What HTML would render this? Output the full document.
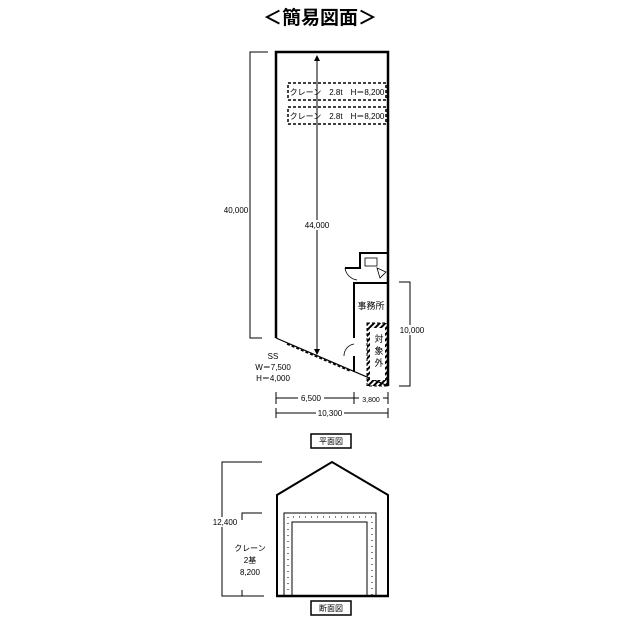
<!DOCTYPE html>
<html><head><meta charset="utf-8"><style>
html,body{margin:0;padding:0;background:#fff;}
svg{display:block;font-family:"Liberation Sans","Noto Sans CJK JP",sans-serif;}
</style></head><body>
<svg width="640" height="629" viewBox="0 0 640 629" xmlns="http://www.w3.org/2000/svg">
<defs>
<pattern id="h" width="4" height="4" patternUnits="userSpaceOnUse" patternTransform="rotate(45)"><rect width="2" height="4" fill="#000"/></pattern>
<marker id="a" markerWidth="6" markerHeight="6" refX="3" refY="3" orient="auto-start-reverse"><path d="M0,0 L6,3 L0,6z" fill="#000"/></marker>
</defs>
<text x="320" y="24" text-anchor="middle" font-size="19" font-weight="bold">＜簡易図面＞</text>
<g stroke="#000" fill="none">
<path d="M276,338 V52 H388 V386" stroke-width="2.5"/>
<line x1="276" y1="338" x2="388" y2="386" stroke-width="1.2"/>
<line x1="287" y1="344" x2="350" y2="371" stroke-width="1.5" stroke-dasharray="3,2"/>
<path d="M354,338 V283 H388" stroke-width="2"/>
<line x1="354" y1="356" x2="354" y2="372" stroke-width="2"/>
<path d="M344,356 A12,12 0 0 1 354,344" stroke-width="0.8"/>
<path d="M345,268 H360 V253 H388" stroke-width="2"/>
<path d="M345,268 A14,14 0 0 0 357,280" stroke-width="0.8"/>
<rect x="365" y="258" width="12" height="8" stroke-width="0.8"/>
<path d="M377,268 L386,272 L380,278z" stroke-width="0.8"/>
<rect x="367" y="323" width="21" height="63" fill="url(#h)" stroke="none"/>
<rect x="370" y="328" width="15" height="52" fill="#fff" stroke="none"/>
<rect x="367" y="323" width="21" height="63" stroke-width="1" stroke-dasharray="3,2"/>
<rect x="288" y="83" width="98" height="17" stroke-width="1.5" stroke-dasharray="3,2"/>
<rect x="288" y="107" width="98" height="17" stroke-width="1.5" stroke-dasharray="3,2"/>
<path d="M268,52 H250 V338 H262" stroke-width="1"/>
<line x1="317" y1="58" x2="317" y2="352" stroke-width="1" marker-start="url(#a)" marker-end="url(#a)"/>
<path d="M399,282 H410 V386 H399" stroke-width="1"/>
<line x1="276" y1="398" x2="388" y2="398" stroke-width="1"/>
<line x1="276" y1="392" x2="276" y2="404" stroke-width="1"/>
<line x1="354" y1="392" x2="354" y2="404" stroke-width="1"/>
<line x1="388" y1="392" x2="388" y2="404" stroke-width="1"/>
<line x1="276" y1="413" x2="388" y2="413" stroke-width="1"/>
<line x1="276" y1="408" x2="276" y2="418" stroke-width="1"/>
<line x1="388" y1="408" x2="388" y2="418" stroke-width="1"/>
<rect x="311" y="434" width="40" height="14" stroke-width="1.5"/>
<path d="M277,596 V495 L332,462 L388,495 V596" stroke-width="2"/>
<line x1="276" y1="596" x2="389" y2="596" stroke-width="2.5"/>
<path d="M284,596 V513 H376 V596" stroke-width="1"/>
<path d="M288,596 V517 H372 V596" stroke-width="1" stroke-dasharray="1,5"/>
<path d="M292,596 V522 H367 V596" stroke-width="1"/>
<path d="M262,462 H222 V596 H264" stroke-width="1"/>
<path d="M262,513 H242 V520 M242,590 V596" stroke-width="1"/>
<rect x="311" y="601" width="40" height="14" stroke-width="1.5"/>
</g>
<g font-size="8" fill="#000">
<text x="337" y="95" text-anchor="middle">クレーン　2.8t　H＝8,200</text>
<text x="337" y="119" text-anchor="middle">クレーン　2.8t　H＝8,200</text>
<rect x="303" y="220" width="28" height="10" fill="#fff"/>
<text x="317" y="228" text-anchor="middle">44,000</text>
<text x="236" y="213" text-anchor="middle">40,000</text>
<text x="371" y="309" text-anchor="middle" font-size="9">事務所</text>
<text x="379" y="342" text-anchor="middle" font-size="9">対</text>
<text x="379" y="354" text-anchor="middle" font-size="9">象</text>
<text x="379" y="366" text-anchor="middle" font-size="9">外</text>
<rect x="398" y="325" width="28" height="10" fill="#fff"/>
<text x="412" y="333" text-anchor="middle">10,000</text>
<text x="273" y="359" text-anchor="middle">SS</text>
<text x="273" y="370" text-anchor="middle">W＝7,500</text>
<text x="273" y="381" text-anchor="middle">H＝4,000</text>
<rect x="298" y="393" width="26" height="10" fill="#fff"/>
<text x="311" y="401" text-anchor="middle">6,500</text>
<rect x="359" y="393" width="24" height="10" fill="#fff"/>
<text x="371" y="402" text-anchor="middle" font-size="7">3,800</text>
<rect x="316" y="408" width="28" height="10" fill="#fff"/>
<text x="330" y="416" text-anchor="middle">10,300</text>
<text x="331" y="444" text-anchor="middle">平面図</text>
<rect x="210" y="517" width="30" height="10" fill="#fff"/>
<text x="225" y="525" text-anchor="middle">12,400</text>
<text x="250" y="551" text-anchor="middle">クレーン</text>
<text x="250" y="563" text-anchor="middle">2基</text>
<text x="250" y="575" text-anchor="middle">8,200</text>
<text x="331" y="611" text-anchor="middle">断面図</text>
</g>
</svg>
</body></html>
